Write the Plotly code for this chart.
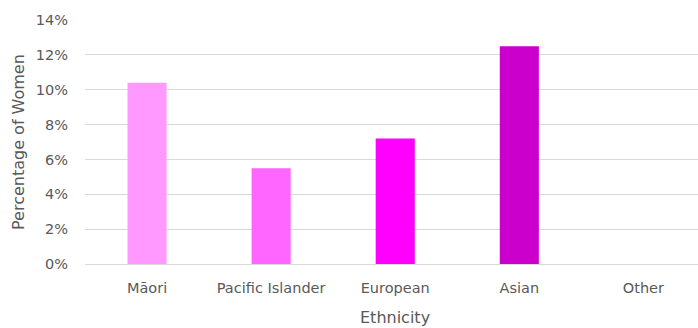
import plotly.graph_objects as go

categories = ["Māori", "Pacific Islander", "European", "Asian", "Other"]
values = [0.104, 0.055, 0.072, 0.125, 0.0]
colors = ["#FF99FF", "#FF66FF", "#FF00FF", "#CC00CC", "#990099"]
y_ticks = [0, 0.02, 0.04, 0.06, 0.08, 0.10, 0.12, 0.14]

FONT = "DejaVu Sans"
GRAY = "#595959"
TICK = 14.5
TITLE = 16

fig = go.Figure(go.Bar(
    x=list(range(len(categories))), y=values,
    marker=dict(color=colors, line=dict(width=0)),
    width=0.315,
))

L, R, T, B = 85, 0, 20, 64
W, H = 698, 328
pw = W - L - R

fig.update_layout(
    width=W, height=H,
    margin=dict(l=L, r=R, t=T, b=B),
    plot_bgcolor="white", paper_bgcolor="white",
    showlegend=False,
    font=dict(family=FONT, color=GRAY, size=TICK),
    xaxis=dict(
        range=[-0.5, 4.44],
        tickmode="array", tickvals=list(range(len(categories))), ticktext=categories,
        showgrid=False, zeroline=False, showline=False,
        ticks="", ticklabelstandoff=13,
        tickfont=dict(family=FONT, color=GRAY, size=TICK),
    ),
    yaxis=dict(
        range=[0, 0.14],
        tickmode="array", tickvals=y_ticks,
        ticktext=[f"{int(round(v*100))}%" for v in y_ticks],
        showgrid=True, gridcolor="#D9D9D9", gridwidth=1,
        zeroline=True, zerolinecolor="#D9D9D9", zerolinewidth=1,
        showline=False, ticks="", ticklabelstandoff=16,
        tickfont=dict(family=FONT, color=GRAY, size=TICK),
    ),
    annotations=[
        dict(text="Ethnicity", xref="x", x=2, yref="paper", y=-(317 - 264) / (264 - 20),
             yanchor="middle", xanchor="center", showarrow=False,
             font=dict(family=FONT, color=GRAY, size=TITLE)),
        dict(text="Percentage of Women", xref="paper", x=(18 - L) / pw, yref="paper", y=0.5,
             xanchor="center", yanchor="middle", textangle=-90, showarrow=False,
             font=dict(family=FONT, color=GRAY, size=TITLE)),
    ],
)

fig.write_html("out.html")
